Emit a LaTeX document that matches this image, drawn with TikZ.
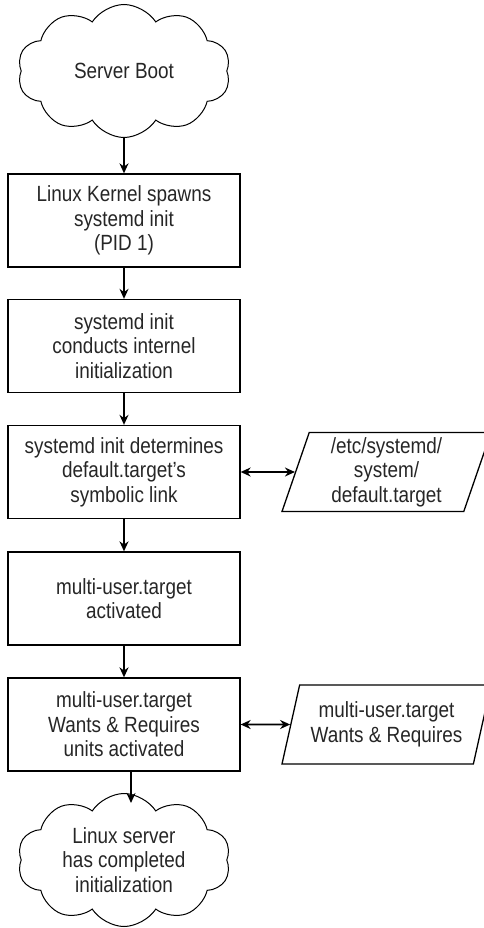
\documentclass[tikz,border=0pt]{standalone}
\usepackage{fontspec}
\setmainfont{Liberation Sans}[FakeStretch=0.86]
\usetikzlibrary{shapes.geometric,shapes.symbols,arrows.meta}
\begin{document}
\begin{tikzpicture}[x=1pt,y=-1pt,
  every node/.style={font=\fontsize{22}{24.5}\selectfont, text=black!85, align=center},
  stepbox/.style={draw, line width=1.3pt, minimum width=232pt, minimum height=93pt, inner sep=0pt},
  cloudbox/.style={cloud, cloud puffs=10, cloud puff arc=115, cloud ignores aspect, draw, line width=1pt, minimum width=213pt, minimum height=133pt, inner sep=0pt},
  para/.style={trapezium, trapezium left angle=68.6, trapezium right angle=111.4, trapezium stretches body, draw, line width=1.3pt, minimum width=209pt, minimum height=79pt, inner sep=0pt},
  flow/.style={-{Stealth[length=10pt,width=9pt]}, line width=1.8pt},
  both/.style={{Stealth[length=10pt,width=9pt]}-{Stealth[length=10pt,width=9pt]}, line width=1.8pt}
]
\useasboundingbox (0,0) rectangle (484,928);
\node[cloudbox] (boot) at (124,71) {Server Boot};
\node[stepbox] (k) at (124,220.5) {Linux Kernel spawns\\systemd init\\(PID 1)};
\node[stepbox] (i) at (124,346) {systemd init\\conducts internel\\initialization};
\node[stepbox] (d) at (124,472) {systemd init determines\\default.target’s\\symbolic link};
\node[stepbox] (m) at (124,598.5) {multi-user.target\\activated};
\node[stepbox] (w) at (124,724.5) {multi-user.target\\Wants \& Requires\\units activated};
\node[cloudbox] (done) at (124,860) {Linux server\\has completed\\initialization};
\node[para] (p1) at (386.5,472) {/etc/systemd/\\system/\\default.target};
\node[para] (p2) at (386.5,724.5) {multi-user.target\\Wants \& Requires};
\draw[flow] (boot.south) -- (k.north);
\draw[flow] (k) -- (i);
\draw[flow] (i) -- (d);
\draw[flow] (d) -- (m);
\draw[flow] (m) -- (w);
\draw[flow] ([xshift=7pt]w.south) -- ([xshift=7pt,yshift=-10pt]done.north);
\draw[both] (d.east) -- (p1);
\draw[both] (w.east) -- (p2);
\end{tikzpicture}
\end{document}
